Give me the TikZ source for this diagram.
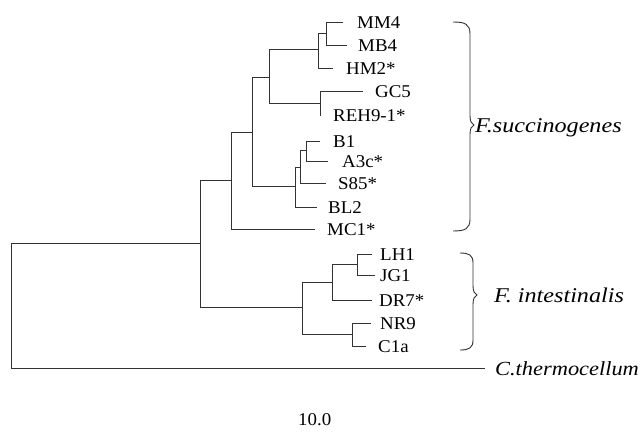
\documentclass[tikz,border=0pt]{standalone}
\usepackage{fontspec}
\setmainfont{Liberation Serif}
\newfontfamily\leaffont[FakeStretch=1.05]{Liberation Serif}
\newfontfamily\spfont[FakeStretch=1.15]{Liberation Serif}
\newfontfamily\ctfont[FakeStretch=1.12]{Liberation Serif}
\begin{document}
\begin{tikzpicture}[x=1pt,y=-1pt,
  edge/.style={draw=black!80,line width=0.9pt},
  bracestyle/.style={draw=black!80,line width=0.9pt},
  leaf/.style={anchor=base west,inner sep=0pt,font=\leaffont\fontsize{18}{20}\selectfont},
  sp/.style={anchor=base west,inner sep=0pt,font=\spfont\itshape\fontsize{21}{24}\selectfont},
  ctl/.style={anchor=base west,inner sep=0pt,font=\ctfont\itshape\fontsize{20}{24}\selectfont}]
\useasboundingbox (0,0) rectangle (643,434);
% internal nodes
\coordinate (root) at (11,305);
\coordinate (A) at (200,243);
\coordinate (B) at (231,180);
\coordinate (C) at (252,132);
\coordinate (D) at (269,77);
\coordinate (E) at (295,186);
\coordinate (F) at (318,49);
\coordinate (G) at (320,103);
\coordinate (H) at (326,33);
\coordinate (J) at (300,167);
\coordinate (K) at (306,150);
\coordinate (I) at (302,307);
\coordinate (L) at (332,282);
\coordinate (M) at (352,334);
\coordinate (N) at (357,264);
% leaf ends
\coordinate (mm4) at (343,22);
\coordinate (mb4) at (347,45);
\coordinate (hm2) at (333,68);
\coordinate (gc5) at (363,91);
\coordinate (reh) at (321,115);
\coordinate (b1) at (320,141);
\coordinate (a3c) at (328,161);
\coordinate (s85) at (326,183);
\coordinate (bl2) at (317,207);
\coordinate (mc1) at (315,229);
\coordinate (lh1) at (372,254);
\coordinate (jg1) at (375,275);
\coordinate (dr7) at (372,300);
\coordinate (nr9) at (371,323);
\coordinate (c1a) at (366,346);
\coordinate (cth) at (485,368);
% edges
\draw[edge] (root) |- (A);
\draw[edge] (root) |- (cth);
\draw[edge] (A) |- (B);
\draw[edge] (A) |- (I);
\draw[edge] (B) |- (C);
\draw[edge] (B) |- (mc1);
\draw[edge] (C) |- (D);
\draw[edge] (C) |- (E);
\draw[edge] (D) |- (F);
\draw[edge] (D) |- (G);
\draw[edge] (F) |- (H);
\draw[edge] (F) |- (hm2);
\draw[edge] (H) |- (mm4);
\draw[edge] (H) |- (mb4);
\draw[edge] (G) |- (gc5);
\draw[edge] (G) |- (reh);
\draw[edge] (E) |- (J);
\draw[edge] (E) |- (bl2);
\draw[edge] (J) |- (K);
\draw[edge] (J) |- (s85);
\draw[edge] (K) |- (b1);
\draw[edge] (K) |- (a3c);
\draw[edge] (I) |- (L);
\draw[edge] (I) |- (M);
\draw[edge] (L) |- (N);
\draw[edge] (L) |- (dr7);
\draw[edge] (N) |- (lh1);
\draw[edge] (N) |- (jg1);
\draw[edge] (M) |- (nr9);
\draw[edge] (M) |- (c1a);
% labels
\node[leaf] (tMM4) at (357,28) {MM4};
\node[leaf] (tMB4) at (358,51) {MB4};
\node[leaf] (tHM2) at (346,74) {HM2*};
\node[leaf] (tGC5) at (375,97) {GC5};
\node[leaf] (tREH) at (333,121) {REH9-1*};
\node[leaf] (tB1) at (333,147) {B1};
\node[leaf] (tA3c) at (342,167) {A3c*};
\node[leaf] (tS85) at (338,189) {S85*};
\node[leaf] (tBL2) at (328,213) {BL2};
\node[leaf] (tMC1) at (327,235) {MC1*};
\node[leaf] (tLH1) at (380,260) {LH1};
\node[leaf] (tJG1) at (380,281) {JG1};
\node[leaf] (tDR7) at (379,306) {DR7*};
\node[leaf] (tNR9) at (380,329) {NR9};
\node[leaf] (tC1a) at (378,352) {C1a};
\node[ctl] (tCth) at (495,375) {C.thermocellum};
\node[sp] (tFs) at (475,132) {F.succinogenes};
\node[sp] (tFi) at (494,302) {F. intestinalis};
\node[leaf] (scale) at (298,425) {10.0};
% braces
\draw[bracestyle] (453,22) .. controls (465,22) and (470,24) .. (470,34) -- (470,116)
  .. controls (470,122) and (472,124) .. (474,125)
  .. controls (472,126) and (470,128) .. (470,134) -- (470,219)
  .. controls (470,229) and (465,231) .. (453,231);
\draw[bracestyle] (460,253) .. controls (469,253) and (473,255) .. (473,263) -- (473,286)
  .. controls (473,292) and (475,294) .. (477,295)
  .. controls (475,296) and (473,298) .. (473,304) -- (473,340)
  .. controls (473,348) and (469,350) .. (460,350);
\end{tikzpicture}
\end{document}
